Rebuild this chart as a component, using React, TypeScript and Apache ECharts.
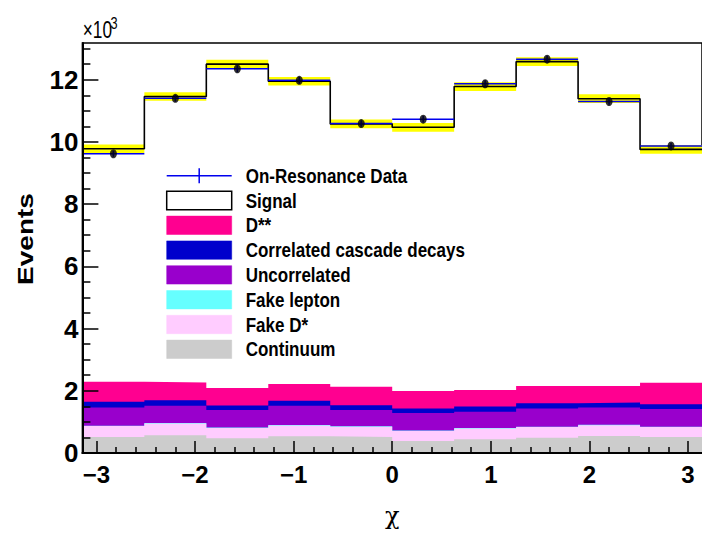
import React, { useEffect, useRef } from "react";
import * as echarts from "echarts";

// ---- data (events per bin of chi) ----
const binEdges = [-3.1416, -2.5133, -1.885, -1.2566, -0.6283, 0, 0.6283, 1.2566, 1.885, 2.5133, 3.1416];
const continuum = [516, 570, 475, 538, 516, 389, 443, 494, 547, 516];
const fakeDstar = [348, 379, 326, 348, 326, 317, 348, 338, 349, 316];
const fakeLepton = [15, 15, 15, 15, 15, 15, 15, 15, 15, 15];
const uncorrelated = [586, 555, 564, 618, 523, 564, 523, 587, 554, 564];
const correlatedCascade = [181, 177, 148, 158, 158, 149, 168, 167, 158, 159];
const dStarStar = [642, 570, 561, 538, 592, 560, 528, 551, 529, 686];
const signal = [7492, 9194, 10411, 9735, 8450, 8476, 9755, 10428, 9238, 7504];
const mcError = [140, 140, 140, 140, 140, 140, 140, 140, 140, 140];
const onResData = [9620, 11400, 12350, 11980, 10590, 10730, 11870, 12660, 11300, 9870];
const dataError = [98, 107, 111, 109, 103, 104, 109, 113, 106, 99];

// ---- ticks ----
const yMajorTicks = [0, 2000, 4000, 6000, 8000, 10000, 12000];
const yMinorTicks = [500, 1000, 1500, 2500, 3000, 3500, 4500, 5000, 5500, 6500, 7000, 7500, 8500, 9000, 9500, 10500, 11000, 11500, 12500, 13000];
const xMajorTicks = [-3, -2, -1, 0, 1, 2, 3];
const xMinorTicks = [-2.8, -2.6, -2.4, -2.2, -1.8, -1.6, -1.4, -1.2, -0.8, -0.6, -0.4, -0.2, 0.2, 0.4, 0.6, 0.8, 1.2, 1.4, 1.6, 1.8, 2.2, 2.4, 2.6, 2.8];

// ---- legend ----
const legendLabels = ["On-Resonance Data", "Signal", "D**", "Correlated cascade decays", "Uncorrelated", "Fake lepton", "Fake D*", "Continuum"];
const legendColors = ["#0000ee", "#ffffff", "#ff0090", "#0000cc", "#9900cc", "#66ffff", "#ffccff", "#cccccc"];

const FONT = "'Liberation Sans', Arial, sans-serif";

const X_MIN = -Math.PI;
const X_MAX = Math.PI;
const Y_MAX = 13180;

function stepPoints(vals: number[]) {
  return binEdges.map((x, i) => [x, vals[Math.min(i, vals.length - 1)]]);
}

export default function App() {
  const ref = useRef<HTMLDivElement>(null);
  useEffect(() => {
    if (!ref.current) return;
    const chart = echarts.init(ref.current, undefined, { renderer: "svg" });

    // stacking bottom -> top
    const layers = [
      { name: "Continuum", vals: continuum, color: "#cccccc" },
      { name: "Fake D*", vals: fakeDstar, color: "#ffccff" },
      { name: "Fake lepton", vals: fakeLepton, color: "#66ffff" },
      { name: "Uncorrelated", vals: uncorrelated, color: "#9900cc" },
      { name: "Correlated cascade decays", vals: correlatedCascade, color: "#0000cc" },
      { name: "D**", vals: dStarStar, color: "#ff0090" },
      { name: "Signal", vals: signal, color: "#ffffff" },
    ];
    const cum: number[][] = [];
    let run = new Array(signal.length).fill(0);
    layers.forEach((l) => {
      run = run.map((r: number, i: number) => r + l.vals[i]);
      cum.push(run.slice());
    });
    const total = cum[cum.length - 1];

    const areaSeries: any[] = [];
    for (let k = layers.length - 1; k >= 0; k--) {
      areaSeries.push({
        name: layers[k].name,
        type: "line",
        step: "end",
        data: stepPoints(cum[k]),
        showSymbol: false,
        symbol: "none",
        silent: true,
        lineStyle: { width: 0, color: layers[k].color },
        areaStyle: { color: layers[k].color, opacity: 1 },
        z: 2,
      });
    }

    const bandData = total.map((t, i) => [binEdges[i], binEdges[i + 1], t, mcError[i]]);
    const dataBins = onResData.map((v, i) => [binEdges[i], binEdges[i + 1], v, dataError[i]]);
    const dotData = onResData.map((v, i) => [(binEdges[i] + binEdges[i + 1]) / 2, v]);

    const rowY = (i: number) => 175.7 + i * 24.8;
    const legendGraphics: any[] = [];
    legendLabels.forEach((lab, i) => {
      const yc = rowY(i);
      if (i === 0) {
        legendGraphics.push({
          type: "line",
          z: 100,
          shape: { x1: 166.7, y1: yc, x2: 231.7, y2: yc },
          style: { stroke: legendColors[0], lineWidth: 1.5 },
        });
        legendGraphics.push({
          type: "line",
          z: 100,
          shape: { x1: 199.2, y1: yc - 7.5, x2: 199.2, y2: yc + 7.5 },
          style: { stroke: legendColors[0], lineWidth: 1.5 },
        });
      } else {
        legendGraphics.push({
          type: "rect",
          z: 100,
          shape: { x: 166.7, y: yc - 9.2, width: 65, height: 18.4 },
          style: {
            fill: legendColors[i],
            stroke: i === 1 ? "#000" : legendColors[i],
            lineWidth: i === 1 ? 1.5 : 0.5,
          },
        });
      }
      legendGraphics.push({
        type: "text",
        z: 100,
        x: 245.7,
        y: yc,
        scaleX: 0.81,
        style: {
          text: lab,
          x: 0,
          y: 0,
          fill: "#000",
          fontFamily: FONT,
          fontWeight: "bold",
          fontSize: 21,
          align: "left",
          verticalAlign: "middle",
        },
      });
    });

    const option: any = {
      animation: false,
      backgroundColor: "#fff",
      grid: {
        left: 82.4,
        right: -5.6,
        top: 43,
        bottom: 75.1,
        show: true,
        borderColor: "#000",
        borderWidth: 1.5,
        backgroundColor: "transparent",
      },
      xAxis: [
        {
          type: "value",
          min: X_MIN,
          max: X_MAX,
          position: "bottom",
          z: 20,
          name: "χ",
          nameLocation: "middle",
          nameGap: 51,
          nameTextStyle: { fontFamily: "'DejaVu Serif', 'Liberation Serif', serif", fontSize: 24, color: "#000" },
          axisLine: { show: true, onZero: false, lineStyle: { color: "#000", width: 2 } },
          axisTick: { show: true, inside: true, length: 12, customValues: xMajorTicks, lineStyle: { color: "#000", width: 1.5 } },
          axisLabel: {
            show: true,
            customValues: xMajorTicks,
            margin: 9,
            fontFamily: FONT,
            fontWeight: "bold",
            fontSize: 24,
            color: "#000",
            formatter: (v: number) => (v < 0 ? "\u2212" + Math.abs(v) : String(v)),
          },
          splitLine: { show: false },
        },
        {
          type: "value",
          min: X_MIN,
          max: X_MAX,
          position: "bottom",
          offset: 0,
          z: 20,
          axisLine: { show: false, onZero: false },
          axisTick: { show: true, inside: true, length: 6, customValues: xMinorTicks, lineStyle: { color: "#000", width: 1.5 } },
          axisLabel: { show: false },
          splitLine: { show: false },
        },
      ],
      yAxis: [
        {
          type: "value",
          min: 0,
          max: Y_MAX,
          position: "left",
          z: 20,
          axisLine: { show: true, onZero: false, lineStyle: { color: "#000", width: 2 } },
          axisTick: { show: true, inside: true, length: 16, customValues: yMajorTicks, lineStyle: { color: "#000", width: 1.5 } },
          axisLabel: {
            show: true,
            customValues: yMajorTicks,
            margin: 4,
            fontFamily: FONT,
            fontWeight: "bold",
            fontSize: 26,
            color: "#000",
            formatter: (v: number) => String(v / 1000),
          },
          splitLine: { show: false },
        },
        {
          type: "value",
          min: 0,
          max: Y_MAX,
          position: "left",
          offset: 0,
          z: 20,
          axisLine: { show: false, onZero: false },
          axisTick: { show: true, inside: true, length: 8, customValues: yMinorTicks, lineStyle: { color: "#000", width: 1.5 } },
          axisLabel: { show: false },
          splitLine: { show: false },
        },
      ],
      graphic: [
        {
          type: "text",
          z: 100,
          x: 25,
          y: 239,
          rotation: Math.PI / 2,
          scaleY: 0.8,
          style: {
            text: "Events",
            x: 0,
            y: 0,
            fill: "#000",
            fontFamily: FONT,
            fontWeight: "bold",
            fontSize: 28,
            align: "center",
            verticalAlign: "middle",
          },
        },
        {
          type: "text",
          z: 100,
          x: 82.7,
          y: 29.5,
          scaleX: 0.72,
          style: { text: "×10", x: 0, y: 0, fill: "#000", fontFamily: FONT, fontSize: 24, align: "left", verticalAlign: "middle" },
        },
        {
          type: "text",
          z: 100,
          x: 110.5,
          y: 23,
          scaleX: 0.75,
          style: { text: "3", x: 0, y: 0, fill: "#000", fontFamily: FONT, fontSize: 17, align: "left", verticalAlign: "middle" },
        },
        ...legendGraphics,
      ],
      series: [
        ...areaSeries,
        {
          name: "MC uncertainty",
          type: "custom",
          silent: true,
          z: 3,
          data: bandData,
          renderItem: (params: any, api: any) => {
            const p1 = api.coord([api.value(0), api.value(2) + api.value(3)]);
            const p2 = api.coord([api.value(1), api.value(2) - api.value(3)]);
            return {
              type: "rect",
              shape: { x: p1[0], y: p1[1], width: p2[0] - p1[0], height: p2[1] - p1[1] },
              style: { fill: "#ffff00" },
            };
          },
        },
        {
          name: "Total MC",
          type: "line",
          step: "end",
          data: stepPoints(total),
          showSymbol: false,
          symbol: "none",
          silent: true,
          z: 4,
          lineStyle: { color: "#000", width: 1.6 },
        },
        {
          name: "On-Resonance Data",
          type: "custom",
          silent: true,
          z: 5,
          data: dataBins,
          renderItem: (params: any, api: any) => {
            const xm = (api.value(0) + api.value(1)) / 2;
            const a = api.coord([api.value(0), api.value(2)]);
            const b = api.coord([api.value(1), api.value(2)]);
            const c = api.coord([xm, api.value(2) + api.value(3)]);
            const d = api.coord([xm, api.value(2) - api.value(3)]);
            return {
              type: "group",
              children: [
                { type: "line", shape: { x1: a[0], y1: a[1], x2: b[0], y2: b[1] }, style: { stroke: "#0000ee", lineWidth: 1.5 } },
                { type: "line", shape: { x1: c[0], y1: c[1], x2: d[0], y2: d[1] }, style: { stroke: "#0000ee", lineWidth: 1.5 } },
              ],
            };
          },
        },
        {
          name: "Data points",
          type: "scatter",
          silent: true,
          z: 6,
          symbol: "circle",
          symbolSize: [7, 9],
          itemStyle: { color: "#000" },
          data: dotData,
        },
      ],
    };
    chart.setOption(option);
    return () => chart.dispose();
  }, []);
  return <div ref={ref} style={{ position: "fixed", left: 0, top: 0, width: 702, height: 533 }} />;
}
